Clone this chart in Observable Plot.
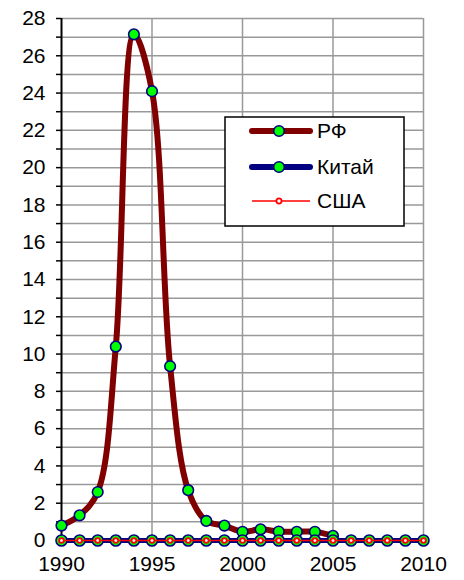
<!DOCTYPE html>
<html><head><meta charset="utf-8">
<script src="https://cdn.jsdelivr.net/npm/d3@7"></script>
<script src="https://cdn.jsdelivr.net/npm/@observablehq/plot@0.6"></script>
<style>
body{margin:0;background:#fff;}
#wrap{position:relative;width:464px;height:580px;font-family:"Liberation Sans",Arial,sans-serif;}
#legend{position:absolute;left:0;top:0;}
</style></head>
<body><div id="wrap"></div>
<script>
const years = [1990,1991,1992,1993,1994,1995,1996,1997,1998,1999,2000,2001,2002,2003,2004,2005,2006,2007,2008,2009,2010];
const rfYears = [1990,1991,1992,1993,1994,1995,1996,1997,1998,1999,2000,2001,2002,2003,2004,2005];
const rfValues = [0.8,1.35,2.6,10.4,27.15,24.1,9.35,2.7,1.05,0.8,0.47,0.6,0.48,0.47,0.47,0.25];
const chinaValues = [0,0,0,0,0,0,0,0,0,0,0,0,0,0,0,0,0,0,0,0,0];
const usValues = [0,0,0,0,0,0,0,0,0,0,0,0,0,0,0,0,0,0,0,0,0];
const xTicks = [1990,1995,2000,2005,2010];
const yTicks = [0,1,2,3,4,5,6,7,8,9,10,11,12,13,14,15,16,17,18,19,20,21,22,23,24,25,26,27,28];
const seriesNames = ["РФ","Китай","США"];

const rf = rfYears.map((y,i)=>({year:y,value:rfValues[i]}));
const china = years.map((y,i)=>({year:y,value:chinaValues[i]}));
const us = years.map((y,i)=>({year:y,value:usValues[i]}));

const grid = {stroke:"#999", strokeOpacity:1, strokeWidth:1.5};
const chart = Plot.plot({
  width:464, height:580,
  marginLeft:61, marginRight:41, marginTop:18, marginBottom:40,
  style:{fontFamily:'"Liberation Sans",Arial,sans-serif', fontSize:"21px", color:"black", background:"white", overflow:"visible"},
  x:{domain:[1990,2010], label:null},
  y:{domain:[0,28], label:null},
  marks:[
    Plot.gridY(yTicks, grid),
    Plot.gridX(xTicks.slice(1), grid),
    Plot.ruleY([0], {stroke:"black", strokeWidth:1.5}),
    Plot.ruleX([1990], {stroke:"black", strokeWidth:2}),
    Plot.axisY(yTicks, {tickSize:5, tickPadding:11, fontSize:21, label:null, tickFormat:d=>d%2===0?String(d):"", strokeWidth:1.5}),
    Plot.axisX(xTicks, {tickSize:0, tickPadding:16, fontSize:21, label:null, tickFormat:d=>String(d)}),
    Plot.line(rf, {x:"year", y:"value", stroke:"#800000", strokeWidth:6, curve:"catmull-rom"}),
    Plot.dot(rf, {x:"year", y:"value", r:5.3, fill:"#00ff00", stroke:"#000080", strokeWidth:1.6}),
    Plot.line(china, {x:"year", y:"value", stroke:"#000080", strokeWidth:5}),
    Plot.dot(china, {x:"year", y:"value", r:5.5, fill:"#00ff00", stroke:"#000080", strokeWidth:1.6}),
    Plot.line(us, {x:"year", y:"value", stroke:"#ff0000", strokeWidth:1.5}),
    Plot.dot(us, {x:"year", y:"value", r:2.4, fill:"#fff4f4", stroke:"#ff0000", strokeWidth:1.8})
  ]
});
const wrap = document.getElementById("wrap");
wrap.appendChild(chart);

// legend
const styles = [
  {stroke:"#800000", w:6, r:5.3, fill:"#00ff00", ms:"#000080", msw:1.6},
  {stroke:"#000080", w:6, r:5.3, fill:"#00ff00", ms:"#000080", msw:1.6},
  {stroke:"#ff0000", w:1.5, r:2.6, fill:"#ffffff", ms:"#ff0000", msw:1.8}
];
const leg = d3.select(wrap).append("svg").attr("id","legend").attr("width",464).attr("height",580)
  .style("pointer-events","none");
leg.append("rect").attr("x",225).attr("y",117).attr("width",179).attr("height",109)
  .attr("fill","white").attr("stroke","black").attr("stroke-width",1.5);
const rowsY = [131,167,201];
seriesNames.forEach((name,i)=>{
  const s = styles[i], y = rowsY[i];
  leg.append("line").attr("x1",252).attr("x2",310).attr("y1",y).attr("y2",y)
    .attr("stroke",s.stroke).attr("stroke-width",s.w).attr("stroke-linecap",s.w>2?"round":"butt");
  leg.append("circle").attr("cx",279).attr("cy",y).attr("r",s.r)
    .attr("fill",s.fill).attr("stroke",s.ms).attr("stroke-width",s.msw);
  leg.append("text").attr("x",317).attr("y",y).attr("dy","0.35em")
    .attr("font-family",'"Liberation Sans",Arial,sans-serif').attr("font-size",21).text(name);
});
</script></body></html>
